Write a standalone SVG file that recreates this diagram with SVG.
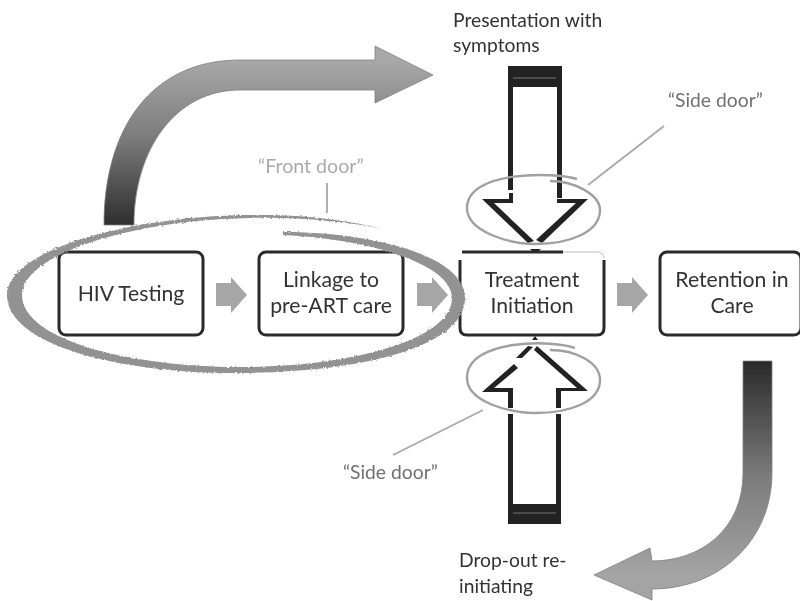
<svg xmlns="http://www.w3.org/2000/svg" width="800" height="601" viewBox="0 0 800 601">
<style>
text{font-family:Lato,"Open Sans",sans-serif;fill:#333}
.n{font-size:21.2px;text-anchor:middle}
.l{font-size:19.3px}
.d{fill:#222}
.box{fill:#fff;stroke:#2a2a2a;stroke-width:3}
.lead{stroke:#a8a8a8;stroke-width:1.8;fill:none}
.ring{fill:none;stroke:#a0a0a0;stroke-width:2.4}
.step{fill:#a6a6a6}
.curve{stroke:#808080;stroke-width:.8}
.cap{stroke:#777;stroke-width:1}
</style>
<defs>
<linearGradient id="up" gradientUnits="userSpaceOnUse" x1="0" y1="225" x2="0" y2="60"><stop offset="0" stop-color="#2e2e2e"/><stop offset=".55" stop-color="#7e7e7e"/><stop offset="1" stop-color="#a8a8a8"/></linearGradient>
<linearGradient id="down" gradientUnits="userSpaceOnUse" x1="0" y1="361" x2="0" y2="575"><stop offset="0" stop-color="#2a2a2a"/><stop offset=".55" stop-color="#7c7c7c"/><stop offset="1" stop-color="#a4a4a4"/></linearGradient>
<filter id="rough" x="-5%" y="-10%" width="110%" height="120%"><feTurbulence type="fractalNoise" baseFrequency=".45" numOctaves="2" seed="4"/><feDisplacementMap in="SourceGraphic" scale="3"/></filter>
<filter id="soft" x="0" y="0" width="100%" height="100%"><feGaussianBlur stdDeviation=".45"/></filter>
</defs>
<g filter="url(#soft)">
<rect width="800" height="601" fill="#fff"/>
<g id="connectors">
<path class="curve" fill="url(#up)" d="M104 225C104 130 150 60 240 60L375 60L375 46L433 75L375 103L375 90L240 90C175 90 134 150 134 225Z"/>
<path class="curve" fill="url(#down)" d="M743 361L743 473C743 530 700 561 652 561L650 548L594 575L652 600L652 589C720 589 772 540 772 473L772 361Z"/>
<path class="step" d="M216 283H231V277L247 295L231 313V306H216Z"/>
<path class="step" d="M417 283H432V277L448 295L432 313V306H417Z"/>
<path class="step" d="M617 283H632V277L648 295L632 313V306H617Z"/>
<g id="arrow-top">
<rect class="d" x="508" y="66" width="54" height="21"/>
<rect class="d" x="508" y="87" width="5" height="103"/>
<rect class="d" x="557" y="87" width="5" height="111"/>
<path class="d" d="M509 193H513V199H509Z"/>
<path class="d" d="M482 199H513V203H494L534 241L528 243Z"/>
<path class="d" d="M588 199H557V203H576L536 240L542 243Z"/>
<path class="d" d="M530 249H541L535 254Z"/>
<path class="cap" d="M513 78H556"/>
</g>
<g id="arrow-bottom">
<rect class="d" x="508" y="504" width="53" height="20"/>
<rect class="d" x="508" y="388" width="5" height="20"/>
<rect class="d" x="508" y="414" width="5" height="90"/>
<rect class="d" x="556" y="388" width="5" height="20"/>
<rect class="d" x="556" y="414" width="5" height="90"/>
<path class="d" d="M482 392H513V388H494L518 368L514 364Z"/>
<path class="d" d="M516 358L528 346L533 347L522 358Z"/>
<path class="d" d="M537 346L588 391H557V388H577L534 350Z"/>
<path class="d" d="M532 340H538L535 336Z"/>
<path class="cap" d="M513 513H556"/>
</g>
<path class="lead" d="M327 183V213"/>
<path class="lead" d="M588 185L664 126"/>
<path class="lead" d="M483 410L393 455"/>
</g>
<g id="hiv-testing"><rect class="box" x="59" y="252" width="144" height="83" rx="7"/><text class="n" x="131" y="301">HIV Testing</text></g>
<g id="linkage"><rect class="box" x="259" y="252" width="144" height="83" rx="7"/><text class="n" x="331" y="287">Linkage to</text><text class="n" x="331" y="313">pre-ART care</text></g>
<g id="treatment"><rect x="460" y="252" width="144" height="83" rx="7" fill="#fff"/><path d="M460 260V328Q460 335 467 335H597Q604 335 604 328V260" fill="none" stroke="#2a2a2a" stroke-width="3"/><path d="M462 252H563" stroke="#2a2a2a" stroke-width="3"/><path d="M563 252H597Q603 252 604 258" stroke="#bbb" stroke-width="1" fill="none"/><text class="n" x="532" y="287">Treatment</text><text class="n" x="532" y="313">Initiation</text></g>
<g id="retention"><rect class="box" x="660" y="252" width="141" height="83" rx="7"/><text class="n" x="732" y="287">Retention in</text><text class="n" x="732" y="313">Care</text></g>
<g id="front-door-ring"><path fill="#929292" filter="url(#rough)" d="M382 229C350 220 300 214 250 215C130 216 7 250 7 295C7 345 120 374 240 373C370 372 465 345 465 298C465 255 370 232 283 232L283 235C360 238 452 262 452 298C452 340 350 367 240 367C130 367 22 340 22 295C22 255 130 220 250 218C300 217 350 222 382 229Z"/></g>
<g id="side-door-ring-top"><path class="ring" d="M577 179C555 172 467 170 467 208C467 232 510 244 535 244C570 244 600 232 600 210C600 195 575 181 550 181"/></g>
<g id="side-door-ring-bottom"><path class="ring" d="M575 348C555 340 467 338 467 378C467 402 510 413 535 413C570 413 600 402 600 380C600 362 575 350 550 350"/></g>
<g id="labels">
<text class="l" x="453" y="27">Presentation with</text>
<text class="l" x="453" y="52">symptoms</text>
<text class="l" x="668" y="107" style="fill:#707070">“Side door”</text>
<text class="l" x="258" y="173" style="fill:#aaa;font-size:19.6px">“Front door”</text>
<text class="l" x="343" y="479" style="fill:#707070">“Side door”</text>
<text class="l" x="459" y="567">Drop-out re-</text>
<text class="l" x="459" y="593">initiating</text>
</g>
</g>
</svg>
